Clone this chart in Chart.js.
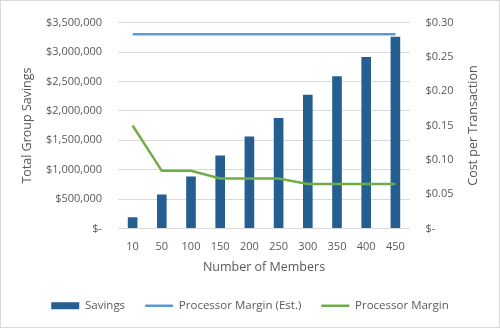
<!DOCTYPE html>
<html>
<head>
<meta charset="utf-8">
<script src="https://cdn.jsdelivr.net/npm/chart.js@4/dist/chart.umd.min.js"></script>
<style>
  html, body { margin: 0; padding: 0; background: #fff; }
  #chart { display: block; }
</style>
</head>
<body>
<canvas id="chart" width="500" height="328"></canvas>
<script>
// Data
const members = ['10', '50', '100', '150', '200', '250', '300', '350', '400', '450'];
const savings = [190000, 580000, 885000, 1240000, 1565000, 1880000, 2275000, 2590000, 2915000, 3260000];
const marginEst = [0.283, 0.283, 0.283, 0.283, 0.283, 0.283, 0.283, 0.283, 0.283, 0.283];
const margin = [0.15, 0.084, 0.084, 0.073, 0.073, 0.073, 0.065, 0.065, 0.065, 0.065];

// Constants
const TEXT_COLOR = '#595959';
const GRID_COLOR = '#d9d9d9';
const FONT = '"Open Sans", "Liberation Sans", sans-serif';

// Format left axis: $3,500,000 and $- for zero
function formatDollars(value) {
  if (value === 0) return '$-';
  return '$' + value.toLocaleString('en-US');
}

// Format right axis: $0.30 and $- for zero
function formatCents(value) {
  if (Math.abs(value) < 1e-9) return '$-';
  return '$' + value.toFixed(2);
}

// White background, thin frame and the right axis title (reads bottom to top)
const framePlugin = {
  id: 'frame',
  beforeLayout(chart) {
    // make the legend shorter so it sits closer to the bottom edge
    const legend = chart.legend;
    if (legend && !legend._patched) {
      const fit = legend.fit.bind(legend);
      legend.fit = function() {
        fit();
        this.height = 48;
      };
      legend._patched = true;
    }
  },
  beforeDraw(chart) {
    const ctx = chart.ctx;
    ctx.save();
    ctx.fillStyle = '#fff';
    ctx.fillRect(0, 0, chart.width, chart.height);
    ctx.restore();
  },
  afterDraw(chart) {
    const ctx = chart.ctx;
    const area = chart.chartArea;
    ctx.save();
    ctx.strokeStyle = GRID_COLOR;
    ctx.lineWidth = 1;
    ctx.strokeRect(0.5, 0.5, chart.width - 1, chart.height - 1);
    ctx.translate(473, (area.top + area.bottom) / 2);
    ctx.rotate(-Math.PI / 2);
    ctx.fillStyle = TEXT_COLOR;
    ctx.font = '12.5px ' + FONT;
    ctx.textAlign = 'center';
    ctx.textBaseline = 'middle';
    ctx.fillText('Cost per Transaction', 0, 0);
    ctx.restore();
  }
};

const ctx = document.getElementById('chart').getContext('2d');

new Chart(ctx, {
  type: 'bar',
  data: {
    labels: members,
    datasets: [
      {
        label: 'Savings',
        data: savings,
        yAxisID: 'y',
        backgroundColor: '#255e91',
        borderWidth: 0,
        barPercentage: 0.33,
        categoryPercentage: 1,
        pointStyle: 'rect',
        order: 3
      },
      {
        type: 'line',
        label: 'Processor Margin (Est.)',
        data: marginEst,
        yAxisID: 'y1',
        borderColor: '#5b9bd5',
        backgroundColor: '#5b9bd5',
        borderWidth: 2.5,
        pointRadius: 0,
        pointStyle: 'line',
        tension: 0,
        order: 2
      },
      {
        type: 'line',
        label: 'Processor Margin',
        data: margin,
        yAxisID: 'y1',
        borderColor: '#70ad47',
        backgroundColor: '#70ad47',
        borderWidth: 2.5,
        pointRadius: 0,
        pointStyle: 'line',
        tension: 0,
        order: 1
      }
    ]
  },
  options: {
    responsive: false,
    animation: false,
    layout: {
      padding: { top: 15, left: 0, right: 0, bottom: 0 }
    },
    plugins: {
      tooltip: { enabled: false },
      legend: {
        position: 'bottom',
        labels: {
          usePointStyle: true,
          pointStyleWidth: 28,
          boxHeight: 7,
          padding: 20,
          color: TEXT_COLOR,
          font: { family: FONT, size: 11.5 },
          sort: (a, b) => a.datasetIndex - b.datasetIndex
        }
      }
    },
    scales: {
      x: {
        grid: { display: false },
        border: { display: false },
        ticks: {
          color: TEXT_COLOR,
          font: { family: FONT, size: 11 },
          padding: 4,
          maxRotation: 0
        },
        title: {
          display: true,
          text: 'Number of Members',
          color: TEXT_COLOR,
          font: { family: FONT, size: 12.5 },
          padding: { top: 0, bottom: 5.5 }
        },
        afterFit(scale) {
          scale.height = 51.5;
        }
      },
      y: {
        position: 'left',
        min: 0,
        max: 3500000,
        grid: { color: GRID_COLOR, drawTicks: false },
        border: { display: false },
        ticks: {
          stepSize: 500000,
          color: TEXT_COLOR,
          font: { family: FONT, size: 11 },
          padding: 16,
          callback: formatDollars
        },
        title: {
          display: true,
          text: 'Total Group Savings',
          color: TEXT_COLOR,
          font: { family: FONT, size: 12.5 },
          padding: { top: 20, bottom: 0 }
        },
        afterFit(scale) {
          scale.width = 118;
        }
      },
      y1: {
        position: 'right',
        min: 0,
        max: 0.3,
        grid: { display: false, drawTicks: false },
        border: { display: false },
        ticks: {
          stepSize: 0.05,
          color: TEXT_COLOR,
          font: { family: FONT, size: 11 },
          padding: 15.5,
          callback: formatCents
        },
        afterFit(scale) {
          scale.width = 90;
        }
      }
    }
  },
  plugins: [framePlugin]
});
</script>
</body>
</html>
